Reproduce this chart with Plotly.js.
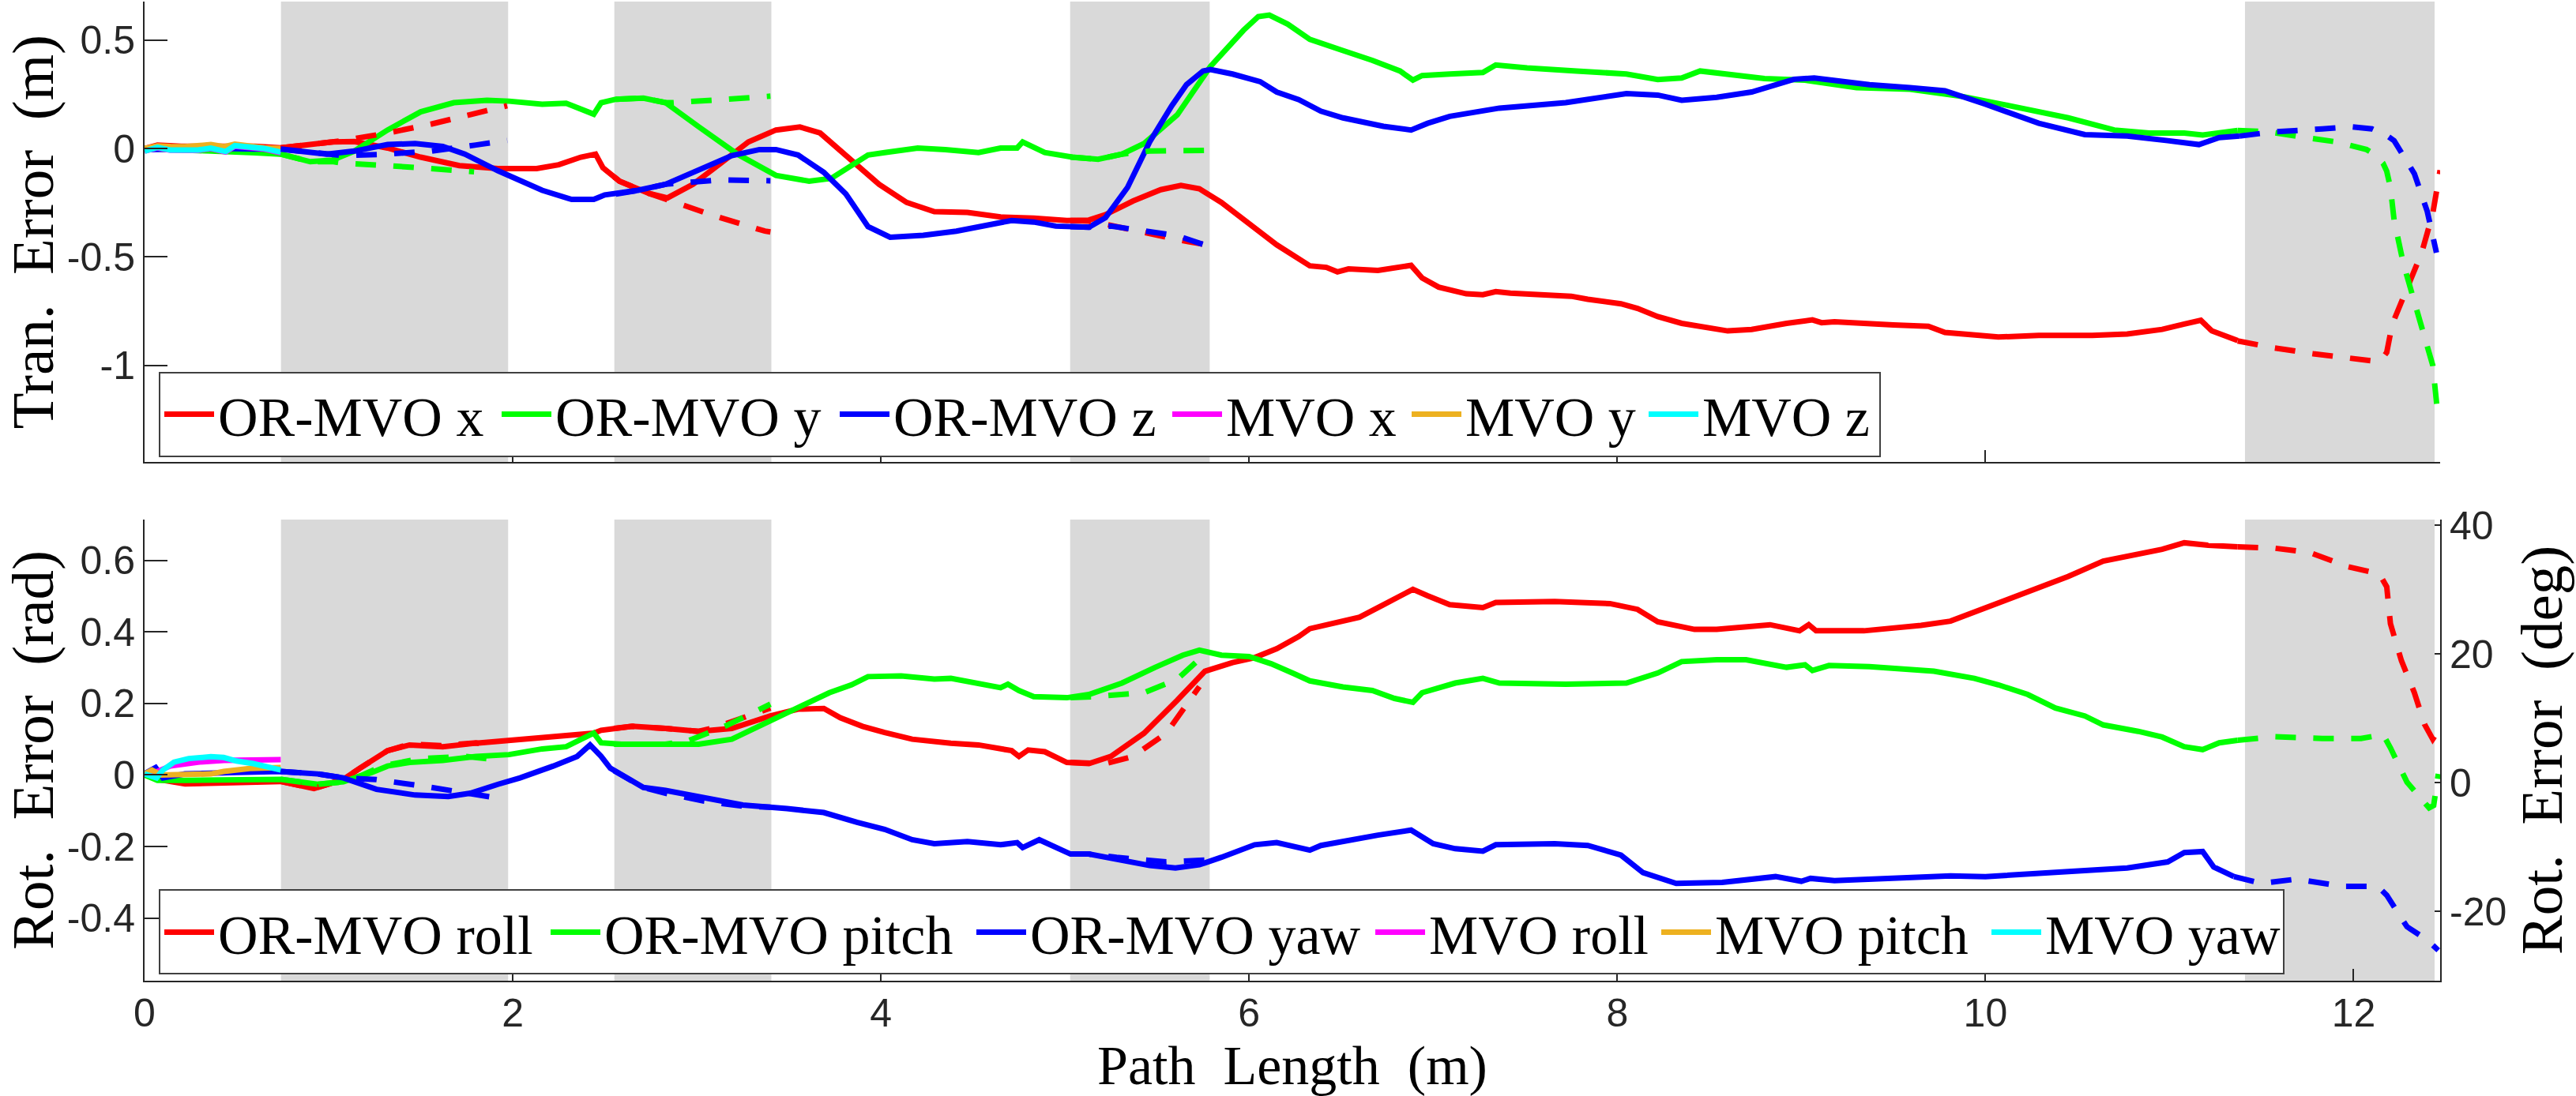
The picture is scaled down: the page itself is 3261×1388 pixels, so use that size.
<!DOCTYPE html>
<html>
<head>
<meta charset="utf-8">
<script src="https://cdn.plot.ly/plotly-3.0.1.min.js"></script>
<style>html,body{margin:0;padding:0;background:#fff;}#chart{width:3261px;height:1388px;}</style>
</head>
<body>
<div id="chart"></div>
<script>
// ---------- occlusion intervals (grey bands), path length in m ----------
const occStart = [0.741, 2.552, 5.028, 11.41];
const occEnd   = [1.975, 3.405, 5.786, 12.44];

// ---------- axis ticks ----------
const xTickVals = [0, 2, 4, 6, 8, 10, 12];
const xTickText = ['0', '2', '4', '6', '8', '10', '12'];
const tranTickVals = [-1, -0.5, 0, 0.5];
const tranTickText = ['-1', '-0.5', '0', '0.5'];
const radTickVals = [-0.4, -0.2, 0, 0.2, 0.4, 0.6];
const radTickText = ['-0.4', '-0.2', '0', '0.2', '0.4', '0.6'];
const degTickVals = [-20, 0, 20, 40];
const degTickText = ['-20', '0', '20', '40'];

// ---------- translation error (m) ----------
const orX_x = [0, 0.07, 0.2, 0.4, 0.6, 0.74, 0.9, 1.02, 1.14, 1.32, 1.5, 1.71, 1.92, 2.13, 2.25, 2.37, 2.45, 2.49, 2.58, 2.74, 2.84, 2.98, 3.13, 3.28, 3.43, 3.56, 3.67, 3.81, 3.99, 4.14, 4.29, 4.47, 4.65, 4.83, 5.01, 5.13, 5.22, 5.37, 5.52, 5.63, 5.73, 5.85, 6.0, 6.15, 6.33, 6.42, 6.48, 6.54, 6.7, 6.76, 6.88, 6.94, 7.03, 7.18, 7.27, 7.34, 7.42, 7.75, 7.84, 8.02, 8.11, 8.22, 8.35, 8.6, 8.73, 8.92, 9.06, 9.11, 9.18, 9.5, 9.69, 9.78, 10.07, 10.29, 10.58, 10.77, 10.96, 11.08, 11.17, 11.23, 11.37];
const orX_y = [0, 0.015, 0.01, 0.012, 0.01, 0.003, 0.015, 0.03, 0.032, 0.002, -0.04, -0.079, -0.093, -0.093, -0.075, -0.04, -0.026, -0.089, -0.151, -0.207, -0.228, -0.165, -0.068, 0.03, 0.085, 0.099, 0.071, -0.03, -0.165, -0.249, -0.291, -0.295, -0.316, -0.321, -0.332, -0.33, -0.305, -0.242, -0.19, -0.17, -0.186, -0.249, -0.346, -0.444, -0.541, -0.548, -0.569, -0.555, -0.562, -0.555, -0.539, -0.597, -0.639, -0.67, -0.674, -0.66, -0.667, -0.681, -0.695, -0.716, -0.737, -0.775, -0.806, -0.841, -0.834, -0.806, -0.79, -0.803, -0.799, -0.813, -0.82, -0.848, -0.869, -0.862, -0.862, -0.855, -0.834, -0.809, -0.792, -0.841, -0.885];
const orXd_x = [0.74, 0.9, 1.02, 1.08, 1.32, 1.56, 1.8, 1.97, null, 2.55, 2.58, 2.74, 2.86, 3.1, 3.37, 3.4, null, 5.03, 5.13, 5.19, 5.43, 5.67, 5.78, null, 11.37, 11.56, 11.78, 11.97, 12.04, 12.11, 12.15, 12.18, 12.21, 12.29, 12.37, 12.43, 12.47];
const orXd_y = [0.003, 0.015, 0.03, 0.037, 0.071, 0.113, 0.162, 0.197, null, -0.13, -0.151, -0.207, -0.242, -0.312, -0.381, -0.385, null, -0.332, -0.335, -0.344, -0.388, -0.43, -0.445, null, -0.887, -0.918, -0.946, -0.968, -0.974, -0.98, -0.975, -0.94, -0.81, -0.64, -0.48, -0.3, -0.1];

const orY_x = [0, 0.2, 0.42, 0.6, 0.74, 0.9, 1.02, 1.14, 1.32, 1.5, 1.68, 1.86, 1.98, 2.16, 2.29, 2.38, 2.44, 2.48, 2.56, 2.71, 2.83, 3.01, 3.22, 3.43, 3.61, 3.73, 3.85, 3.93, 4.02, 4.2, 4.35, 4.53, 4.65, 4.74, 4.77, 4.89, 5.04, 5.18, 5.31, 5.43, 5.61, 5.79, 5.97, 6.05, 6.11, 6.21, 6.33, 6.44, 6.5, 6.67, 6.82, 6.89, 6.94, 7.09, 7.27, 7.34, 7.51, 7.78, 8.05, 8.22, 8.35, 8.45, 8.67, 8.8, 9.02, 9.3, 9.59, 9.88, 10.13, 10.45, 10.7, 10.89, 11.08, 11.18, 11.37];
const orY_y = [0, -0.005, -0.012, -0.02, -0.026, -0.061, -0.054, -0.012, 0.085, 0.169, 0.211, 0.222, 0.218, 0.204, 0.208, 0.176, 0.158, 0.211, 0.227, 0.232, 0.211, 0.1, -0.026, -0.124, -0.151, -0.138, -0.075, -0.03, -0.019, 0.002, -0.005, -0.019, 0.002, 0.002, 0.03, -0.019, -0.04, -0.05, -0.026, 0.023, 0.155, 0.378, 0.545, 0.608, 0.615, 0.573, 0.503, 0.475, 0.454, 0.406, 0.357, 0.315, 0.336, 0.343, 0.35, 0.385, 0.371, 0.357, 0.343, 0.318, 0.325, 0.357, 0.336, 0.322, 0.315, 0.28, 0.273, 0.239, 0.197, 0.141, 0.085, 0.071, 0.071, 0.062, 0.083];
const orYd_x = [0.74, 0.9, 1.02, 1.08, 1.32, 1.56, 1.79, null, 2.56, 2.71, 2.83, 2.87, 3.13, 3.4, null, 5.03, 5.18, 5.31, 5.46, 5.78, null, 11.37, 11.53, 11.7, 11.91, 12.07, 12.11, 12.16, 12.18, 12.2, 12.22, 12.27, 12.33, 12.39, 12.43, 12.46];
const orYd_y = [-0.026, -0.061, -0.06, -0.068, -0.079, -0.096, -0.107, null, 0.227, 0.232, 0.211, 0.211, 0.225, 0.241, null, -0.04, -0.05, -0.026, -0.012, -0.009, null, 0.083, 0.078, 0.055, 0.03, -0.005, -0.025, -0.068, -0.105, -0.18, -0.33, -0.53, -0.7, -0.88, -1.0, -1.25];

const orZ_x = [0, 0.2, 0.42, 0.6, 0.74, 0.99, 1.14, 1.32, 1.47, 1.62, 1.74, 1.92, 2.16, 2.32, 2.44, 2.5, 2.68, 2.83, 3.01, 3.19, 3.34, 3.43, 3.55, 3.69, 3.81, 3.93, 4.05, 4.23, 4.41, 4.62, 4.71, 4.83, 4.95, 5.13, 5.22, 5.34, 5.46, 5.58, 5.66, 5.75, 5.79, 5.91, 6.06, 6.15, 6.27, 6.39, 6.51, 6.73, 6.88, 6.97, 7.09, 7.36, 7.72, 8.05, 8.22, 8.35, 8.54, 8.73, 8.96, 9.07, 9.15, 9.37, 9.59, 9.78, 10.0, 10.29, 10.54, 10.77, 10.99, 11.16, 11.27, 11.38];
const orZ_y = [-0.005, -0.002, 0.0, -0.003, -0.003, -0.026, -0.012, 0.018, 0.023, 0.009, -0.026, -0.103, -0.193, -0.235, -0.235, -0.214, -0.193, -0.165, -0.096, -0.033, -0.005, -0.005, -0.03, -0.11, -0.21, -0.36, -0.409, -0.4, -0.381, -0.349, -0.332, -0.339, -0.358, -0.363, -0.319, -0.179, 0.03, 0.197, 0.294, 0.357, 0.364, 0.343, 0.308, 0.26, 0.225, 0.172, 0.141, 0.102, 0.085, 0.116, 0.148, 0.186, 0.211, 0.253, 0.246, 0.222, 0.236, 0.26, 0.319, 0.325, 0.315, 0.294, 0.28, 0.266, 0.204, 0.116, 0.064, 0.057, 0.036, 0.018, 0.05, 0.057];
const orZd_x = [0.74, 0.99, 1.08, 1.32, 1.56, 1.8, 1.97, null, 2.56, 2.68, 2.83, 2.92, 3.13, 3.4, null, 5.03, 5.13, 5.25, 5.43, 5.61, 5.78, null, 11.38, 11.57, 11.83, 11.99, 12.1, 12.18, 12.22, 12.33, 12.4, 12.45];
const orZd_y = [-0.003, -0.026, -0.033, -0.026, -0.012, 0.016, 0.037, null, -0.21, -0.193, -0.165, -0.158, -0.145, -0.149, null, -0.36, -0.363, -0.358, -0.377, -0.402, -0.451, null, 0.057, 0.077, 0.09, 0.1, 0.09, 0.06, 0.036, -0.116, -0.29, -0.48];

const mvoX_x = [0, 0.07, 0.14, 0.29, 0.36, 0.44, 0.49, 0.65, 0.74];
const mvoX_y = [-0.012, 0.003, -0.008, -0.009, 0.0, -0.016, 0.01, -0.003, -0.02];
const mvoY_x = [0, 0.07, 0.14, 0.22, 0.36, 0.43, 0.49, 0.65, 0.74];
const mvoY_y = [0, 0.012, 0.009, 0.008, 0.018, 0.008, 0.02, 0.003, 0.0];
const mvoZ_x = [0, 0.07, 0.14, 0.29, 0.36, 0.44, 0.49, 0.65, 0.74];
const mvoZ_y = [-0.012, 0.005, -0.007, -0.007, 0.002, -0.014, 0.013, 0.0, -0.017];

// ---------- rotation error (rad) ----------
const roll_x = [0, 0.07, 0.22, 0.43, 0.65, 0.74, 0.85, 0.92, 1.0, 1.08, 1.17, 1.23, 1.32, 1.44, 1.62, 1.8, 1.98, 2.16, 2.35, 2.44, 2.48, 2.65, 2.83, 3.01, 3.19, 3.4, 3.55, 3.69, 3.78, 3.9, 4.02, 4.17, 4.38, 4.53, 4.71, 4.75, 4.8, 4.89, 5.01, 5.13, 5.25, 5.43, 5.61, 5.76, 5.91, 6.03, 6.15, 6.27, 6.33, 6.6, 6.73, 6.85, 6.89, 6.97, 7.09, 7.27, 7.34, 7.66, 7.96, 8.11, 8.22, 8.42, 8.54, 8.83, 8.99, 9.04, 9.08, 9.34, 9.65, 9.81, 10.0, 10.19, 10.45, 10.64, 10.96, 11.08, 11.21, 11.37];
const roll_y = [0.003, -0.012, -0.025, -0.023, -0.019, -0.018, -0.03, -0.038, -0.025, -0.012, 0.019, 0.04, 0.068, 0.084, 0.079, 0.089, 0.097, 0.106, 0.114, 0.117, 0.125, 0.136, 0.13, 0.122, 0.13, 0.165, 0.184, 0.186, 0.16, 0.136, 0.119, 0.1, 0.089, 0.084, 0.068, 0.052, 0.07, 0.065, 0.035, 0.032, 0.052, 0.117, 0.209, 0.29, 0.314, 0.328, 0.353, 0.387, 0.409, 0.441, 0.476, 0.508, 0.519, 0.501, 0.476, 0.468, 0.482, 0.485, 0.479, 0.463, 0.428, 0.407, 0.407, 0.42, 0.403, 0.42, 0.403, 0.403, 0.418, 0.43, 0.468, 0.506, 0.555, 0.598, 0.631, 0.649, 0.642, 0.638];
const rolld_x = [0.74, 0.85, 0.92, 1.0, 1.08, 1.17, 1.32, 1.44, 1.62, 1.8, 1.9, null, 2.55, 2.65, 2.83, 3.01, 3.1, 3.25, 3.4, null, 5.03, 5.13, 5.22, 5.37, 5.55, 5.73, null, 11.37, 11.57, 11.76, 11.97, 12.14, 12.18, 12.2, 12.26, 12.33, 12.385, 12.43, 12.47];
const rolld_y = [-0.018, -0.03, -0.038, -0.025, -0.012, 0.019, 0.068, 0.086, 0.082, 0.09, 0.079, null, 0.13, 0.136, 0.13, 0.122, 0.133, 0.16, 0.187, null, 0.035, 0.032, 0.032, 0.052, 0.117, 0.247, null, 0.638, 0.634, 0.622, 0.582, 0.562, 0.526, 0.423, 0.319, 0.23, 0.142, 0.1, 0.13];

const pitch_x = [0, 0.07, 0.22, 0.74, 0.94, 1.08, 1.17, 1.23, 1.32, 1.44, 1.62, 1.8, 1.98, 2.16, 2.29, 2.38, 2.44, 2.48, 2.59, 2.83, 3.01, 3.19, 3.37, 3.55, 3.72, 3.84, 3.93, 4.11, 4.29, 4.38, 4.56, 4.65, 4.69, 4.75, 4.83, 5.01, 5.13, 5.31, 5.49, 5.64, 5.73, 5.85, 6.0, 6.12, 6.24, 6.33, 6.51, 6.67, 6.79, 6.89, 6.94, 7.12, 7.27, 7.36, 7.72, 8.05, 8.22, 8.35, 8.54, 8.7, 8.92, 9.02, 9.06, 9.15, 9.37, 9.72, 9.94, 10.07, 10.23, 10.38, 10.54, 10.64, 10.83, 10.96, 11.08, 11.18, 11.27, 11.37];
const pitch_y = [0, -0.015, -0.015, -0.012, -0.026, -0.019, -0.003, 0.006, 0.025, 0.035, 0.041, 0.052, 0.057, 0.073, 0.079, 0.1, 0.117, 0.09, 0.086, 0.086, 0.086, 0.1, 0.144, 0.192, 0.23, 0.252, 0.275, 0.277, 0.268, 0.27, 0.252, 0.244, 0.254, 0.236, 0.219, 0.216, 0.225, 0.257, 0.301, 0.335, 0.349, 0.335, 0.331, 0.311, 0.284, 0.263, 0.246, 0.236, 0.214, 0.203, 0.23, 0.257, 0.27, 0.257, 0.254, 0.257, 0.285, 0.317, 0.322, 0.322, 0.301, 0.308, 0.292, 0.306, 0.303, 0.29, 0.27, 0.252, 0.225, 0.187, 0.165, 0.14, 0.122, 0.106, 0.079, 0.071, 0.09, 0.097];
const pitchd_x = [0.74, 0.94, 1.08, 1.17, 1.29, 1.5, 1.74, 1.95, null, 2.55, 2.83, 2.95, 3.16, 3.4, null, 5.03, 5.16, 5.43, 5.61, 5.76, null, 11.37, 11.57, 11.83, 12.04, 12.16, 12.2, 12.29, 12.41, 12.435, 12.46];
const pitchd_y = [-0.012, -0.026, -0.019, -0.003, 0.025, 0.046, 0.052, 0.041, null, 0.086, 0.086, 0.095, 0.138, 0.198, null, 0.216, 0.219, 0.23, 0.268, 0.338, null, 0.097, 0.107, 0.102, 0.102, 0.113, 0.076, -0.02, -0.092, -0.085, 0.003];

const yaw_x = [0, 0.06, 0.1, 0.22, 0.5, 0.74, 0.94, 1.02, 1.08, 1.26, 1.47, 1.65, 1.77, 1.92, 2.04, 2.22, 2.35, 2.42, 2.48, 2.53, 2.71, 2.83, 3.01, 3.25, 3.49, 3.69, 3.87, 4.02, 4.17, 4.29, 4.47, 4.65, 4.74, 4.77, 4.86, 5.03, 5.13, 5.31, 5.46, 5.6, 5.73, 5.85, 6.03, 6.15, 6.33, 6.39, 6.55, 6.7, 6.88, 7.0, 7.12, 7.27, 7.34, 7.66, 7.84, 8.02, 8.14, 8.22, 8.32, 8.57, 8.86, 9.0, 9.05, 9.18, 9.81, 10.0, 10.29, 10.54, 10.77, 10.99, 11.08, 11.18, 11.24, 11.35];
const yaw_y = [0.004, 0.021, -0.008, 0.003, 0.007, 0.01, 0.003, -0.004, -0.008, -0.04, -0.056, -0.06, -0.051, -0.026, -0.008, 0.025, 0.052, 0.084, 0.052, 0.019, -0.035, -0.043, -0.062, -0.084, -0.094, -0.105, -0.132, -0.152, -0.181, -0.192, -0.186, -0.195, -0.189, -0.203, -0.181, -0.221, -0.221, -0.238, -0.253, -0.26, -0.251, -0.23, -0.195, -0.189, -0.21, -0.197, -0.181, -0.168, -0.154, -0.192, -0.206, -0.213, -0.195, -0.192, -0.197, -0.224, -0.273, -0.285, -0.303, -0.3, -0.284, -0.297, -0.289, -0.295, -0.282, -0.284, -0.275, -0.268, -0.26, -0.243, -0.217, -0.214, -0.257, -0.284];
const yawd_x = [0.74, 0.94, 1.08, 1.26, 1.5, 1.71, 1.95, null, 2.55, 2.71, 2.83, 3.04, 3.25, 3.4, null, 5.03, 5.13, 5.28, 5.55, 5.76, null, 11.35, 11.5, 11.69, 11.94, 12.13, 12.18, 12.29, 12.4, 12.46];
const yawd_y = [0.01, 0.003, -0.008, -0.013, -0.03, -0.046, -0.067, null, 0.012, -0.035, -0.051, -0.073, -0.087, -0.09, null, -0.221, -0.221, -0.23, -0.243, -0.238, null, -0.284, -0.303, -0.291, -0.311, -0.311, -0.336, -0.424, -0.461, -0.49];

const mvoRoll_x = [0, 0.07, 0.14, 0.29, 0.43, 0.57, 0.74];
const mvoRoll_y = [0.003, 0.01, 0.025, 0.036, 0.041, 0.043, 0.043];
const mvoPitch_x = [0, 0.04, 0.09, 0.14, 0.22, 0.36, 0.43, 0.57, 0.74];
const mvoPitch_y = [0.003, 0.014, 0.0, 0.0, 0.003, 0.003, 0.01, 0.018, 0.021];
const mvoYaw_x = [0, 0.065, 0.1, 0.16, 0.24, 0.36, 0.43, 0.5, 0.59, 0.74];
const mvoYaw_y = [0.003, -0.008, 0.014, 0.036, 0.046, 0.051, 0.049, 0.039, 0.032, 0.014];

// ---------- styling ----------
const RED = '#ff0000', GREEN = '#00ff00', BLUE = '#0000ff', MAG = '#ff00ff', ORA = '#edb120', CYA = '#00ffff';
const LW = 7;
const DASH = '26px,22px';
const SERIF = 'Liberation Serif, Times New Roman, serif';
const SANS = 'Liberation Sans, Arial, Helvetica, sans-serif';
const AX = '#262626';

function solid(x, y, name, color, xa, ya, legend, lw) {
  return {type: 'scatter', mode: 'lines', x: x, y: y, name: name, xaxis: xa, yaxis: ya,
    line: {color: color, width: LW}, legend: legend, legendwidth: lw, hoverinfo: 'skip'};
}
function dashed(x, y, color, xa, ya) {
  return {type: 'scatter', mode: 'lines', x: x, y: y, xaxis: xa, yaxis: ya, showlegend: false,
    connectgaps: false, line: {color: color, width: LW, dash: DASH}, hoverinfo: 'skip'};
}

const traces = [
  solid(orX_x, orX_y, 'OR-MVO x', RED, 'x', 'y', 'legend', 349),
  solid(orY_x, orY_y, 'OR-MVO y', GREEN, 'x', 'y', 'legend', 350),
  solid(orZ_x, orZ_y, 'OR-MVO z', BLUE, 'x', 'y', 'legend', 343),
  solid(mvoX_x, mvoX_y, 'MVO x', MAG, 'x', 'y', 'legend', 225),
  solid(mvoY_x, mvoY_y, 'MVO y', ORA, 'x', 'y', 'legend', 222),
  solid(mvoZ_x, mvoZ_y, 'MVO z', CYA, 'x', 'y', 'legend', 219),
  dashed(orXd_x, orXd_y, RED, 'x', 'y'),
  dashed(orYd_x, orYd_y, GREEN, 'x', 'y'),
  dashed(orZd_x, orZd_y, BLUE, 'x', 'y'),

  solid(roll_x, roll_y, 'OR-MVO roll', RED, 'x2', 'y2', 'legend2', 411),
  solid(pitch_x, pitch_y, 'OR-MVO pitch', GREEN, 'x2', 'y2', 'legend2', 461),
  solid(yaw_x, yaw_y, 'OR-MVO yaw', BLUE, 'x2', 'y2', 'legend2', 427),
  solid(mvoRoll_x, mvoRoll_y, 'MVO roll', MAG, 'x2', 'y2', 'legend2', 284),
  solid(mvoPitch_x, mvoPitch_y, 'MVO pitch', ORA, 'x2', 'y2', 'legend2', 340),
  solid(mvoYaw_x, mvoYaw_y, 'MVO yaw', CYA, 'x2', 'y2', 'legend2', 296),
  dashed(rolld_x, rolld_y, RED, 'x2', 'y2'),
  dashed(pitchd_x, pitchd_y, GREEN, 'x2', 'y2'),
  dashed(yawd_x, yawd_y, BLUE, 'x2', 'y2'),
  // empty trace so the right-hand degree axis is created
  {type: 'scatter', mode: 'lines', x: [], y: [], xaxis: 'x2', yaxis: 'y3', showlegend: false, hoverinfo: 'skip'}
];

const shapes = [];
for (let i = 0; i < occStart.length; i++) {
  shapes.push({type: 'rect', xref: 'x', yref: 'y domain', x0: occStart[i], x1: occEnd[i], y0: 0, y1: 1,
    fillcolor: '#d9d9d9', line: {width: 0}, layer: 'below'});
  shapes.push({type: 'rect', xref: 'x2', yref: 'y2 domain', x0: occStart[i], x1: occEnd[i], y0: 0, y1: 1,
    fillcolor: '#d9d9d9', line: {width: 0}, layer: 'below'});
}

const tickFont = {family: SANS, size: 50, color: AX};
const titleFont = {family: SERIF, size: 75, color: '#000'};
const xTitleFont = {family: SERIF, size: 70, color: '#000'};
const commonAxis = {showline: true, linecolor: AX, linewidth: 2, ticks: 'inside', tickcolor: AX, tickwidth: 2,
  showgrid: false, zeroline: false, tickfont: tickFont, automargin: false, fixedrange: true};
const legendCommon = {orientation: 'h', xanchor: 'left', yanchor: 'middle', bgcolor: '#ffffff',
  bordercolor: '#404040', borderwidth: 2, itemwidth: 63, traceorder: 'normal',
  font: {family: SERIF, size: 70, color: '#000'}};

const layout = {
  width: 3261, height: 1388,
  margin: {l: 183, r: 172, t: 2, b: 146, pad: 0},
  paper_bgcolor: '#ffffff', plot_bgcolor: 'rgba(0,0,0,0)',
  showlegend: true,
  xaxis: Object.assign({}, commonAxis, {domain: [0, 1], range: [0, 12.47], anchor: 'y',
    tickvals: [0, 2, 4, 6, 8, 10], showticklabels: false, ticklen: 15}),
  yaxis: Object.assign({}, commonAxis, {domain: [0.5298, 1], range: [-1.445, 0.677], anchor: 'x',
    tickvals: tranTickVals, ticktext: tranTickText, ticklen: 29,
    title: {text: 'Tran.\u00a0 Error\u00a0 (m)', font: titleFont, standoff: 16}}),
  xaxis2: Object.assign({}, commonAxis, {domain: [0, 1], range: [0, 12.47], anchor: 'y2',
    tickvals: xTickVals, ticktext: xTickText, ticklen: 15, ticklabelstandoff: -4,
    title: {text: 'Path\u00a0 Length\u00a0 (m)', font: xTitleFont, standoff: 30}}),
  yaxis2: Object.assign({}, commonAxis, {domain: [0, 0.471], range: [-0.575, 0.714], anchor: 'x2',
    tickvals: radTickVals, ticktext: radTickText, ticklen: 29,
    title: {text: 'Rot.\u00a0 Error\u00a0 (rad)', font: titleFont, standoff: 16}}),
  yaxis3: Object.assign({}, commonAxis, {overlaying: 'y2', side: 'right', anchor: 'x2', range: [-30.8, 40.9],
    tickvals: degTickVals, ticktext: degTickText, ticklen: 7,
    title: {text: 'Rot.\u00a0 Error\u00a0 (deg)', font: titleFont, standoff: 18}}),
  legend: Object.assign({}, legendCommon, {x: 0.0062, y: 0.5786}),
  legend2: Object.assign({}, legendCommon, {x: 0.0062, y: 0.0496}),
  shapes: shapes
};

Plotly.newPlot('chart', traces, layout, {staticPlot: true, displayModeBar: false});
</script>
</body>
</html>
